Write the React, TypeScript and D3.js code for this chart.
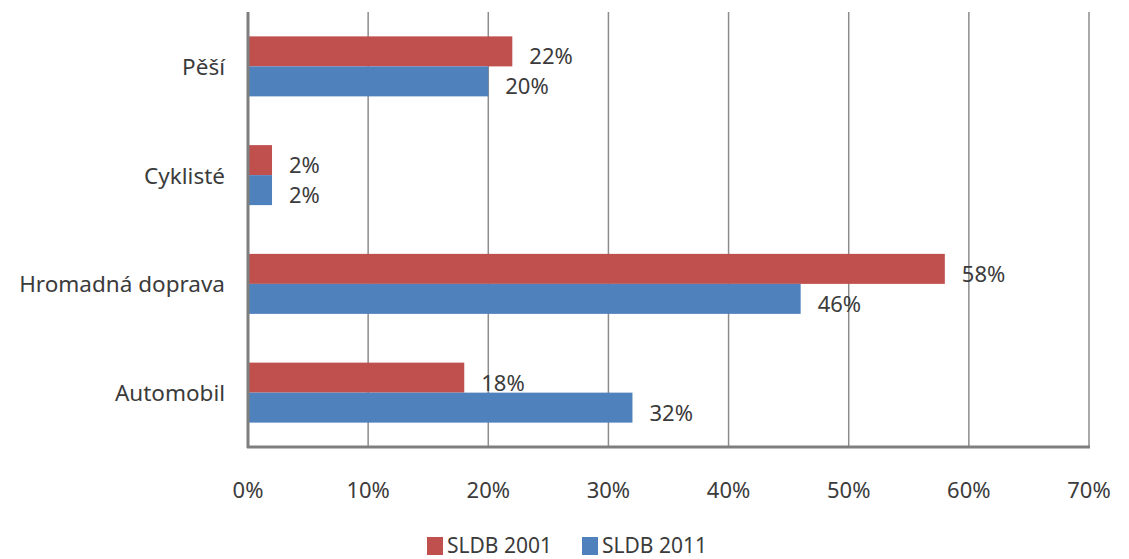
import * as d3 from "d3";

const categories = ["Pěší", "Cyklisté", "Hromadná doprava", "Automobil"];
const series2001 = [22, 2, 58, 18];
const series2011 = [20, 2, 46, 32];
const seriesNames = ["SLDB 2001", "SLDB 2011"];
const xTicks = [0, 10, 20, 30, 40, 50, 60, 70];

const W = 1129;
const H = 559;
const FONT = "'Noto Sans', 'Open Sans', sans-serif";
const TEXT = "#3b3b3b";
const COLORS = ["#c0504d", "#4f81bd"];

export default function App() {
  const margin = { left: 248, right: 40, top: 12, bottom: 112 };
  const x = d3.scaleLinear().domain([0, 70]).range([margin.left, W - margin.right]);
  const y = d3
    .scaleBand<string>()
    .domain(categories)
    .range([margin.top, H - margin.bottom]);
  const barH = 30;
  const series = [series2001, series2011];

  return (
    <svg
      width={W}
      height={H}
      style={{ position: "absolute", left: 0, top: 0, background: "#fff" }}
      fontFamily={FONT}
    >
      {/* vertical grid */}
      {xTicks.slice(1).map((t) => (
        <line
          key={t}
          x1={x(t)}
          x2={x(t)}
          y1={margin.top}
          y2={H - margin.bottom}
          stroke="#8c8c8c"
          strokeWidth={1.5}
        />
      ))}
      {/* bars */}
      {categories.map((c, i) => {
        const mid = (y(c) ?? 0) + y.bandwidth() / 2;
        return series.map((s, k) => {
          const top = mid - barH + k * barH;
          return (
            <g key={c + k}>
              <rect
                x={x(0)}
                y={top}
                width={x(s[i]) - x(0)}
                height={barH}
                fill={COLORS[k]}
              />
              <text
                x={x(s[i]) + 17}
                y={top + barH / 2 + 4}
                fontSize={22}
                fill={TEXT}
                dominantBaseline="central"
              >
                {s[i]}%
              </text>
            </g>
          );
        });
      })}
      {/* axes */}
      <line
        x1={x(0)}
        x2={x(0)}
        y1={margin.top}
        y2={H - margin.bottom + 1}
        stroke="#7f7f7f"
        strokeWidth={3}
      />
      <line
        x1={x(0) - 1}
        x2={x(70) + 1}
        y1={H - margin.bottom}
        y2={H - margin.bottom}
        stroke="#7f7f7f"
        strokeWidth={3}
      />
      {/* category labels */}
      {categories.map((c) => (
        <text
          key={c}
          x={225}
          y={(y(c) ?? 0) + y.bandwidth() / 2}
          textAnchor="end"
          dominantBaseline="central"
          fontSize={22.5}
          fill={TEXT}
        >
          {c}
        </text>
      ))}
      {/* x tick labels */}
      {xTicks.map((t) => (
        <text
          key={t}
          x={x(t)}
          y={489}
          textAnchor="middle"
          dominantBaseline="central"
          fontSize={22}
          fill={TEXT}
        >
          {t}%
        </text>
      ))}
      {/* legend */}
      {seriesNames.map((n, k) => {
        const lx = k === 0 ? 427 : 582;
        return (
          <g key={n}>
            <rect x={lx} y={537} width={16} height={18} fill={COLORS[k]} />
            <text
              x={lx + 20}
              y={545}
              dominantBaseline="central"
              fontSize={21}
              fill={TEXT}
            >
              {n}
            </text>
          </g>
        );
      })}
    </svg>
  );
}
